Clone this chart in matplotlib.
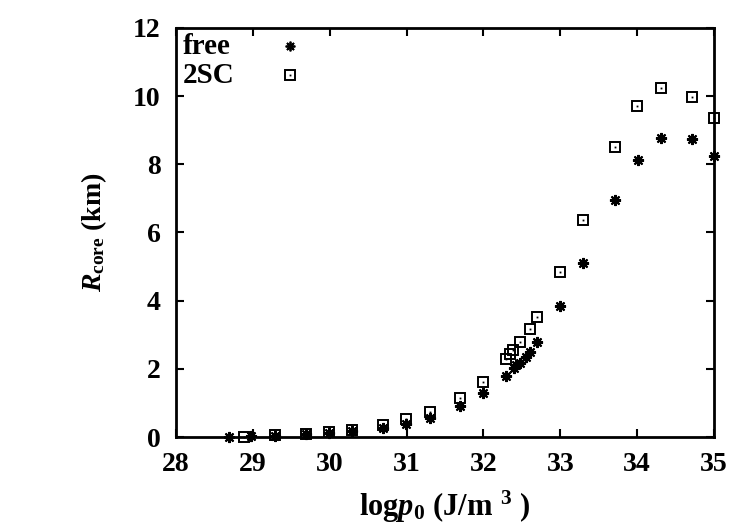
import numpy as np
import matplotlib
matplotlib.use('Agg')
import matplotlib.pyplot as plt

# core radius vs central pressure
free_logp = [28.69, 28.98, 29.29, 29.69, 29.99, 30.29, 30.69, 30.99, 31.30, 31.70,
             32.00, 32.30, 32.40, 32.43, 32.47, 32.55, 32.61, 32.70, 33.00, 33.30,
             33.71, 34.01, 34.31, 34.71, 35.00]
free_r = [0.0, 0.02, 0.04, 0.08, 0.12, 0.18, 0.27, 0.38, 0.57, 0.91,
          1.28, 1.79, 2.01, 2.11, 2.18, 2.36, 2.50, 2.78, 3.84, 5.10,
          6.95, 8.12, 8.77, 8.74, 8.25]

sc_logp = [28.88, 29.29, 29.69, 29.99, 30.29, 30.69, 30.99, 31.30, 31.70, 32.00,
           32.30, 32.34, 32.39, 32.48, 32.60, 32.70, 33.00, 33.30, 33.71, 34.00,
           34.31, 34.71, 35.00]
sc_r = [0.0, 0.05, 0.09, 0.14, 0.22, 0.36, 0.52, 0.73, 1.15, 1.62,
        2.29, 2.43, 2.55, 2.79, 3.18, 3.53, 4.83, 6.38, 8.51, 9.71,
        10.25, 9.98, 9.35]

xticks = [28, 29, 30, 31, 32, 33, 34, 35]
yticks = [0, 2, 4, 6, 8, 10, 12]

plt.rcParams['font.family'] = 'Liberation Serif'
plt.rcParams['font.weight'] = 'bold'
plt.rcParams['mathtext.fontset'] = 'custom'
plt.rcParams['mathtext.rm'] = 'Liberation Serif:bold'
plt.rcParams['mathtext.it'] = 'Liberation Serif:italic:bold'
plt.rcParams['mathtext.sf'] = 'Liberation Serif'  # plain weight for the subscript

fig = plt.figure(figsize=(7.5, 5.25), dpi=100)
ax = fig.add_axes([0.2347, 0.1676, 0.952 - 0.2347, 0.9467 - 0.1676])

star = (8, 2, 0)
ax.plot(free_logp, free_r, linestyle='none', marker=star, ms=8, mew=1.5,
        color='black', clip_on=False)
ax.plot(sc_logp, sc_r, linestyle='none', marker='s', ms=6.5, mew=1.4,
        mfc='none', mec='black', clip_on=False)
ax.plot(sc_logp, sc_r, linestyle='none', marker='s', ms=1.3, mew=0,
        color='black', clip_on=False)

# legend drawn gnuplot-style
ax.text(0.012, 0.955, 'free', transform=ax.transAxes, fontsize=21,
        fontweight='bold', va='center', ha='left')
ax.text(0.012, 0.883, '2SC', transform=ax.transAxes, fontsize=21,
        fontweight='bold', va='center', ha='left')
ax.plot([0.212], [0.955], transform=ax.transAxes, marker=star, ms=7, mew=1.3,
        color='black', linestyle='none')
ax.plot([0.212], [0.885], transform=ax.transAxes, marker='s', ms=6.5, mew=1.4,
        mfc='none', mec='black', linestyle='none')
ax.plot([0.212], [0.885], transform=ax.transAxes, marker='s', ms=1.3, mew=0,
        color='black', linestyle='none')

ax.set_xlim(28, 35)
ax.set_ylim(0, 12)
ax.set_xticks(xticks)
ax.set_yticks(yticks)
ax.tick_params(direction='in', length=6, width=1.5, labelsize=20,
               top=True, right=True, pad=11)
for lab in ax.get_xticklabels() + ax.get_yticklabels():
    lab.set_fontweight('bold')
for sp in ax.spines.values():
    sp.set_linewidth(2)

ax.set_xlabel(r'log$p_0$ (J/m$^{\,\,\,3}$ )', fontsize=22, fontweight='bold', labelpad=8)
ax.set_ylabel(r'$R_{\mathsf{core}}$ (km)', fontsize=20, fontweight='bold', labelpad=17)

fig.savefig('out.png', dpi=100)
